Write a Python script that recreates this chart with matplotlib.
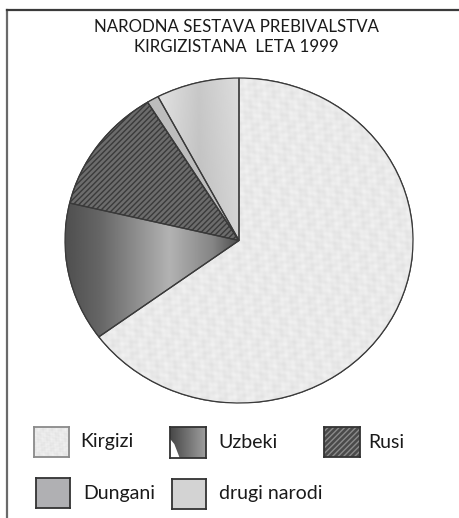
import numpy as np
import matplotlib
matplotlib.use("Agg")
import matplotlib.pyplot as plt
from matplotlib.patches import Wedge, Rectangle, Polygon
from matplotlib.lines import Line2D

# ---- data ----
title_lines = ["NARODNA SESTAVA PREBIVALSTVA", "KIRGIZISTANA  LETA 1999"]
categories = ["Kirgizi", "Uzbeki", "Rusi", "Dungani", "drugi narodi"]
shares = [64.9, 13.8, 12.5, 1.1, 7.7]

FONT = ["Lato", "DejaVu Sans"]
W, H = 460, 518
fig = plt.figure(figsize=(W / 100, H / 100), dpi=100)
fig.patch.set_facecolor("white")


def fx(px):
    return px / W


def fy(py):
    return 1 - py / H


# frame lines (top and left)
fig.add_artist(Line2D([fx(7), fx(7)], [fy(10), 0], transform=fig.transFigure,
                      color="#6a6a6a", lw=1.6))
fig.add_artist(Line2D([fx(7), 1], [fy(10), fy(10)], transform=fig.transFigure,
                      color="#3a3a3a", lw=1.6))

# title
fig.text(fx(236), fy(27), title_lines[0], ha="center", va="center",
         fontsize=12.2, family=FONT, color="#1a1a1a")
fig.text(fx(236), fy(47.5), title_lines[1], ha="center", va="center",
         fontsize=12.2, family=FONT, color="#1a1a1a")

# ---- pie ----
ax = fig.add_axes([fx(65), fy(403), 348 / W, 325 / H])
wedges, _ = ax.pie(shares, startangle=90, counterclock=False,
                   wedgeprops=dict(edgecolor="#3a3a3a", linewidth=0.9))

N = 500
gx, gy = np.meshgrid(np.linspace(-1, 1, N), np.linspace(-1, 1, N))


def tex_kirgizi(X, Y):
    return (0.915 + 0.02 * np.sin(X * 61 + np.sin(Y * 23) * 2) * np.sin(Y * 47)
            + 0.015 * np.sin((X + Y) * 97) * np.cos((X - Y) * 83))


def grad_uzbeki(X, Y, x0=-1.0, x1=0.0):
    t = (X - x0) / (x1 - x0)
    return np.interp(t, [0, 0.2, 0.6, 0.85, 1.0], [0.31, 0.40, 0.70, 0.52, 0.30])


def grad_drugi(X, Y, x0=-0.46, x1=0.0):
    t = (X - x0) / (x1 - x0)
    return np.interp(t, [0, 0.5, 1.0], [0.87, 0.77, 0.85]) + 0.04 * (Y - 0.6)


def grad_dungani(theta, t0, t1):
    t = (theta - t0) / (t1 - t0)
    return np.interp(t, [0, 0.45, 0.55, 1.0], [0.98, 0.98, 0.74, 0.74])


face = {"Kirgizi": "#e8e8e8", "Uzbeki": "#7a7a7a", "Rusi": "#6c6c6c",
        "Dungani": "#b0b0b3", "drugi narodi": "#d3d3d3"}

theta_img = np.degrees(np.arctan2(gy, gx)) % 360

for w, cat in zip(wedges, categories):
    w.set_facecolor(face[cat])
    img = None
    if cat == "Kirgizi":
        img = tex_kirgizi(gx, gy)
    elif cat == "Uzbeki":
        img = grad_uzbeki(gx, gy)
    elif cat == "drugi narodi":
        img = grad_drugi(gx, gy)
    elif cat == "Dungani":
        img = grad_dungani(theta_img, w.theta1, w.theta2)
    elif cat == "Rusi":
        w.set_hatch("//////")
    if img is not None:
        im = ax.imshow(np.clip(img, 0, 1), extent=(-1, 1, -1, 1), origin="lower",
                       cmap="gray", vmin=0, vmax=1, zorder=1.5, aspect="auto",
                       interpolation="bilinear")
        im.set_clip_path(w)
    ax.add_patch(Wedge(w.center, w.r, w.theta1, w.theta2, fill=False,
                       edgecolor="#3a3a3a", linewidth=0.9, zorder=2))

ax.set_aspect("auto")
ax.set_xlim(-1, 1)
ax.set_ylim(-1, 1)
ax.axis("off")

# ---- legend ----
legend_boxes = {  # x, y (top), w, h in pixels
    "Kirgizi": (34, 427, 35, 30),
    "Uzbeki": (170, 427, 36, 31),
    "Rusi": (324, 427, 36, 30),
    "Dungani": (36, 478, 34, 30),
    "drugi narodi": (172, 479, 34, 30),
}
legend_text = {
    "Kirgizi": (80, 442),
    "Uzbeki": (218, 442),
    "Rusi": (368, 442),
    "Dungani": (83, 494),
    "drugi narodi": (219, 494),
}
lx, ly = np.meshgrid(np.linspace(0, 1, 60), np.linspace(0, 1, 60))
for cat in categories:
    x, y, bw, bh = legend_boxes[cat]
    lax = fig.add_axes([fx(x), fy(y + bh), bw / W, bh / H])
    lax.set_xticks([])
    lax.set_yticks([])
    edge = "#333333"
    if cat == "Kirgizi":
        lax.imshow(tex_kirgizi(lx * 0.4, ly * 0.4), extent=(0, 1, 0, 1),
                   origin="lower", cmap="gray", vmin=0, vmax=1, aspect="auto")
        edge = "#8a8a8a"
    elif cat == "Uzbeki":
        lax.imshow(np.interp(lx, [0, 1], [0.28, 0.62]), extent=(0, 1, 0, 1),
                   origin="lower", cmap="gray", vmin=0, vmax=1, aspect="auto")
        lax.add_patch(Polygon([(0, 0), (0, 0.62), (0.12, 0.45), (0.27, 0)],
                              closed=True, facecolor="white", edgecolor="none"))
    elif cat == "Rusi":
        lax.add_patch(Rectangle((0, 0), 1, 1, facecolor="#4a4a4a",
                                edgecolor="#8a8a8a", hatch="//////", lw=0))
    else:
        lax.set_facecolor(face[cat])
    lax.set_xlim(0, 1)
    lax.set_ylim(0, 1)
    for s in lax.spines.values():
        s.set_color(edge)
        s.set_linewidth(1.3)
    tx, ty = legend_text[cat]
    fig.text(fx(tx), fy(ty), cat, ha="left", va="center", fontsize=14,
             family=FONT, color="#1a1a1a")

fig.savefig("out.png", dpi=100, facecolor="white")
